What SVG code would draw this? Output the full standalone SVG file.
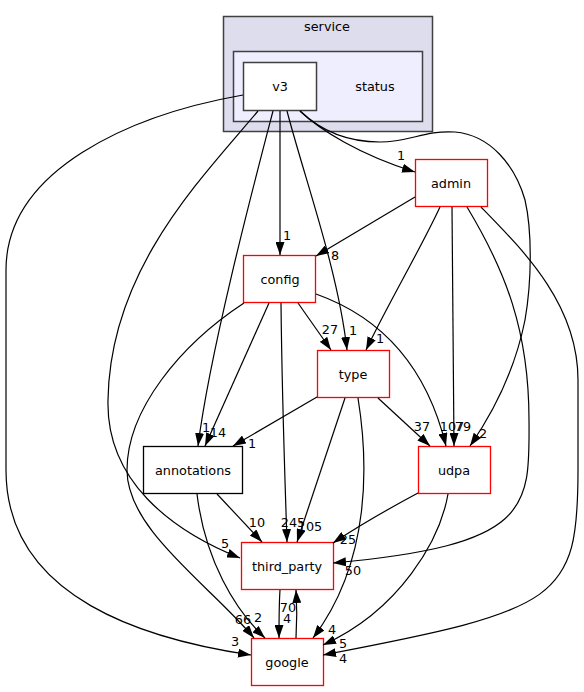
<svg xmlns="http://www.w3.org/2000/svg" width="584" height="692" viewBox="0 0 584 692">
<style>
text{font-family:"DejaVu Sans","Liberation Sans",sans-serif;font-size:12.8px;fill:#000;text-anchor:middle}
.e path{fill:none;stroke:#000;stroke-width:1.2;marker-end:url(#ah)}
.red{fill:#fff;stroke:#ff0000;stroke-width:1.3}
.blk{fill:#fff;stroke:#000;stroke-width:1.3}
</style>
<defs>
<marker id="ah" viewBox="0 0 10 7" refX="10" refY="3.5" markerWidth="13" markerHeight="9" markerUnits="userSpaceOnUse" orient="auto" preserveAspectRatio="none">
<path d="M0,0 L10,3.5 L0,7 z" fill="#000"/>
</marker>
</defs>
<rect width="584" height="692" fill="#fff"/>
<g id="cluster_service">
<rect x="223.5" y="16.5" width="209" height="115" fill="#ddddee" stroke="#404040" stroke-width="1.5"/>
<text x="327" y="31">service</text>
</g>
<g id="cluster_status">
<rect x="233.5" y="51.5" width="189" height="70" fill="#eeeeff" stroke="#404040" stroke-width="1.5"/>
<text x="375" y="90.5">status</text>
</g>
<g id="node_v3">
<rect x="243.5" y="62.5" width="73" height="48" fill="#fff" stroke="#404040" stroke-width="1.5"/>
<text x="280" y="90.5">v3</text>
</g>
<g id="node_admin"><rect class="red" x="415.5" y="159.5" width="72" height="47"/><text x="451" y="187.5">admin</text></g>
<g id="node_config"><rect class="red" x="243.5" y="255.5" width="72" height="47"/><text x="280" y="283.5">config</text></g>
<g id="node_type"><rect class="red" x="317.5" y="350.5" width="72" height="47"/><text x="353" y="378.5">type</text></g>
<g id="node_annotations"><rect class="blk" x="143.5" y="446.5" width="99" height="47"/><text x="193" y="474.5">annotations</text></g>
<g id="node_udpa"><rect class="red" x="418.5" y="446.5" width="72" height="47"/><text x="454" y="474.5">udpa</text></g>
<g id="node_third_party"><rect class="red" x="241.5" y="542.5" width="92" height="47"/><text x="287" y="570.5">third_party</text></g>
<g id="node_google"><rect class="red" x="251.5" y="638.5" width="72" height="47"/><text x="287" y="666.5">google</text></g>
<g id="edges" class="e">
<path d="M300,111 C320,130 360,155 415,172"/>
<path d="M300,111 C320,130 345,142 380,142 C410,142 425,130 455,132 C490,135 515,165 525,200 C532,230 532,280 525,320 C515,370 495,410 470,446"/>
<path d="M280,111 L280,255"/>
<path d="M287,111 C305,180 338,270 347,350"/>
<path d="M273,111 C255,180 210,350 198,446"/>
<path d="M258,111 C200,180 110,270 108,400 C106,480 170,530 240,558"/>
<path d="M243,95 C130,115 6,170 6,270 L6,470 C6,600 150,640 251,655"/>
<path d="M415,197 L316,256"/>
<path d="M440,207 C420,250 390,300 366,350"/>
<path d="M452,207 C453,300 454,380 454,446"/>
<path d="M467,207 C505,270 529,330 529,420 C530,510 530,545 333,563"/>
<path d="M481,207 C525,252 578,305 578,380 L578,470 C578,600 560,610 323,655"/>
<path d="M298,303 L331,350"/>
<path d="M269,303 L205,446"/>
<path d="M281,303 C282,400 285,480 287,542"/>
<path d="M316,294 C375,315 425,360 446,446"/>
<path d="M244,303 C180,345 127,410 127,470 C127,530 210,585 254,638"/>
<path d="M317,397 L233,446"/>
<path d="M378,398 L430,446"/>
<path d="M345,398 L297,542"/>
<path d="M358,398 C368,460 372,560 313,638"/>
<path d="M217,494 L262,542"/>
<path d="M197,494 C205,560 235,610 265,638"/>
<path d="M418,493 C390,508 360,525 333,543"/>
<path d="M448,494 C440,540 400,610 323,645"/>
<path d="M280,590 C279,605 279,620 279,638"/>
<path d="M296,638 C297,622 297,606 296,590"/>
</g>
<g id="edge_labels">
<text x="401" y="160">1</text>
<text x="483" y="438">2</text>
<text x="287" y="240">1</text>
<text x="353" y="335">1</text>
<text x="206" y="432">1</text>
<text x="225" y="548">5</text>
<text x="235" y="646">3</text>
<text x="335" y="260">8</text>
<text x="380" y="343">1</text>
<text x="463" y="431">79</text>
<text x="353" y="575">50</text>
<text x="343" y="663">4</text>
<text x="330" y="334">27</text>
<text x="218" y="437">14</text>
<text x="293" y="527">245</text>
<text x="452" y="431">107</text>
<text x="243" y="624">66</text>
<text x="252" y="448">1</text>
<text x="422" y="431">37</text>
<text x="310" y="531">105</text>
<text x="332" y="634">4</text>
<text x="257" y="527">10</text>
<text x="258" y="622">2</text>
<text x="348" y="544">25</text>
<text x="343" y="648">5</text>
<text x="287" y="623">4</text>
<text x="288" y="612">70</text>
</g>
</svg>
